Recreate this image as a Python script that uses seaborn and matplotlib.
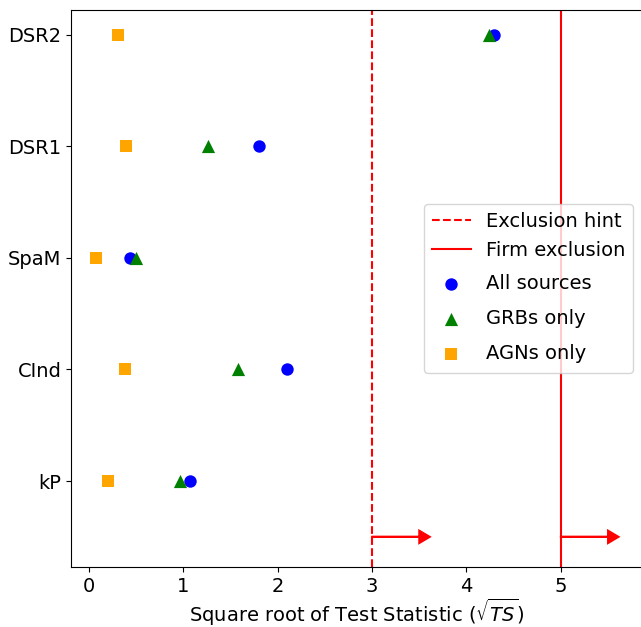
import pandas as pd
import matplotlib
matplotlib.use('Agg')
import matplotlib.pyplot as plt
from matplotlib.legend_handler import HandlerPathCollection
import seaborn as sns

# Models (bottom to top) and sqrt(TS) per source sample
models = ['kP', 'CInd', 'SpaM', 'DSR1', 'DSR2']
all_sources = [1.07, 2.10, 0.43, 1.80, 4.29]
grbs_only = [0.97, 1.58, 0.50, 1.26, 4.24]
agns_only = [0.20, 0.38, 0.08, 0.39, 0.31]

hint_level = 3
firm_level = 5

plt.rcParams['font.size'] = 14


class TallScatterHandler(HandlerPathCollection):
    # give scatter entries a bit more room in the legend
    def legend_artist(self, legend, orig_handle, fontsize, handlebox):
        art = super().legend_artist(legend, orig_handle, fontsize, handlebox)
        extra = 8.5
        handlebox.height += extra
        handlebox.ydescent += extra / 2
        return art


fig = plt.figure(figsize=(6.41, 6.27), dpi=100)
ax = fig.add_axes([71 / 641, 60 / 627, 572 / 641, 557 / 627])

# Exclusion thresholds
ax.axvline(hint_level, color='red', linestyle='--', lw=1.5, label='Exclusion hint')
ax.axvline(firm_level, color='red', linestyle='-', lw=1.5, label='Firm exclusion')

# Points for each sample
sns.scatterplot(x=all_sources, y=models, color='blue', marker='o', s=80,
                linewidth=0, label='All sources', ax=ax)
sns.scatterplot(x=grbs_only, y=models, color='green', marker='^', s=90,
                linewidth=0, label='GRBs only', ax=ax)
sns.scatterplot(x=agns_only, y=models, color='orange', marker='s', s=80,
                linewidth=0, label='AGNs only', ax=ax)

# Arrows pointing to the excluded region
for lvl in [hint_level, firm_level]:
    ax.arrow(lvl, -0.5, 0.5, 0, head_width=0.11, head_length=0.11,
             color='red', lw=1.5, length_includes_head=False)

ax.set_xlim(-0.19, 5.87)
ax.set_ylim(-0.77, 4.22)
ax.spines['right'].set_visible(False)
ax.set_xlabel(r'Square root of Test Statistic ($\sqrt{TS}$)', labelpad=1)
ax.set_ylabel('')

handles, labels = ax.get_legend_handles_labels()
ax.legend(handles, labels, loc='center right', fontsize=14,
          handler_map={type(handles[-1]): TallScatterHandler()})

fig.savefig('out.png', dpi=100)
